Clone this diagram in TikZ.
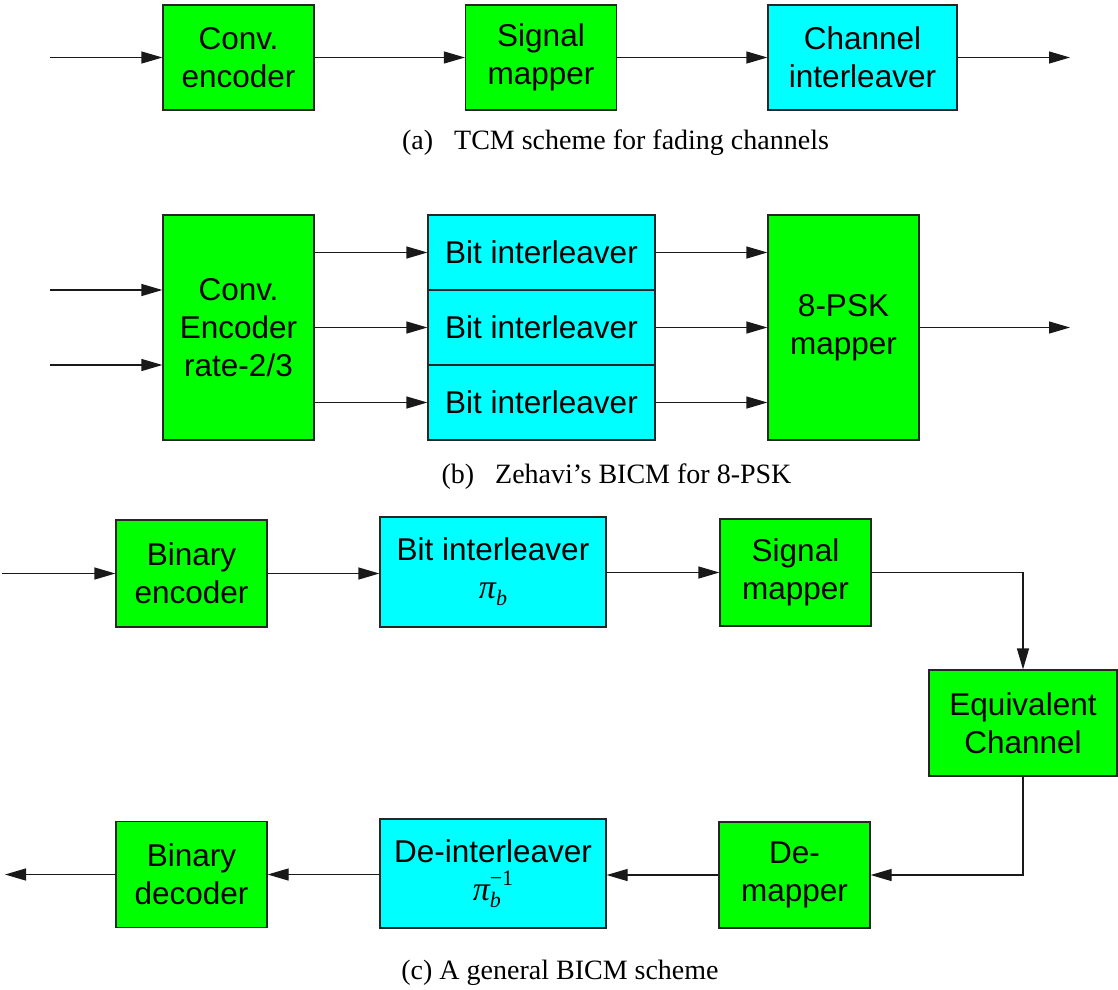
\documentclass[tikz,border=0pt]{standalone}
\usepackage{fontspec}
\setmainfont{Liberation Serif}
\newfontfamily\boxfont{Liberation Sans}
\newfontfamily\grkfont{Liberation Serif}
\usetikzlibrary{arrows.meta}
\definecolor{boxgreen}{RGB}{0,255,0}
\definecolor{boxcyan}{RGB}{0,255,255}
\newcommand{\pib}{{\grkfont\fontsize{34}{38}\selectfont\itshape π\raisebox{-7pt}{\fontsize{22}{22}\selectfont b}}}
\newcommand{\pibinv}{{\grkfont\fontsize{34}{38}\selectfont\itshape π\rlap{\raisebox{-7pt}{\fontsize{22}{22}\selectfont b}}\raisebox{15pt}{\upshape\fontsize{22}{22}\selectfont −1}}}
\begin{document}
\begin{tikzpicture}[x=1pt,y=-1pt,
  blk/.style={draw=black!85,line width=1.2pt,inner sep=0pt,align=center,
    font=\boxfont\fontsize{31.5}{38}\selectfont},
  grn/.style={blk,fill=boxgreen},
  cyn/.style={blk,fill=boxcyan},
  arr/.style={-{Triangle[length=21pt,width=12pt]},line width=1.2pt,black!90},
  captext/.style={font=\fontsize{28}{32}\selectfont,inner sep=0pt}]
\useasboundingbox (0,0) rectangle (1118,989);
% (a)
\node[grn,minimum width=151pt,minimum height=105pt] (ce) at (238.5,57.5) {Conv.\\encoder};
\node[grn,minimum width=151pt,minimum height=105pt] (sm) at (541,57.5) {Signal\\mapper};
\node[cyn,minimum width=189pt,minimum height=105pt] (ci) at (862.5,57.5) {Channel\\interleaver};
\coordinate (ain) at (50,57.5);
\coordinate (aout) at (1070,57.5);
\draw[arr] (ain) -- (ce);
\draw[arr] (ce) -- (sm);
\draw[arr] (sm) -- (ci);
\draw[arr] (ci) -- (aout);
\node[captext] (capa) at (615.5,143) {(a)\ \ \ TCM scheme for fading channels};
% (b)
\node[grn,minimum width=151pt,minimum height=225pt] (cer) at (238.5,327.5) {Conv.\\Encoder\\rate-2/3};
\node[cyn,minimum width=227pt,minimum height=75pt] (bi1) at (541.5,252.5) {Bit interleaver};
\node[cyn,minimum width=227pt,minimum height=75pt] (bi2) at (541.5,327.5) {Bit interleaver};
\node[cyn,minimum width=227pt,minimum height=75pt] (bi3) at (541.5,402.5) {Bit interleaver};
\node[grn,minimum width=151pt,minimum height=225pt] (psk) at (843.5,327.5) {8-PSK\\mapper};
\coordinate (bin1) at (50,290);
\coordinate (bin2) at (50,365);
\coordinate (bout) at (1070,327.5);
\draw[arr] (bin1) -- (bin1 -| cer.west);
\draw[arr] (bin2) -- (bin2 -| cer.west);
\draw[arr] (bi1.west -| cer.east) -- (bi1.west);
\draw[arr] (bi2.west -| cer.east) -- (bi2.west);
\draw[arr] (bi3.west -| cer.east) -- (bi3.west);
\draw[arr] (bi1.east) -- (bi1.east -| psk.west);
\draw[arr] (bi2.east) -- (bi2.east -| psk.west);
\draw[arr] (bi3.east) -- (bi3.east -| psk.west);
\draw[arr] (psk) -- (bout);
\node[captext] (capb) at (616.5,477) {(b)\ \ \ Zehavi's BICM for 8-PSK};
% (c)
\node[grn,minimum width=151pt,minimum height=107pt] (be) at (191.5,573.5) {Binary\\encoder};
\node[cyn,minimum width=226pt,minimum height=110pt] (bi) at (493,572) {Bit interleaver\\[0pt]\pib};
\node[grn,minimum width=151pt,minimum height=107pt] (sm2) at (795.5,572.5) {Signal\\mapper};
\node[grn,minimum width=188pt,minimum height=106pt] (eq) at (1023,723) {Equivalent\\Channel};
\node[grn,minimum width=151pt,minimum height=106pt] (dm) at (794.5,875) {De-\\mapper};
\node[cyn,minimum width=226pt,minimum height=109pt] (di) at (493,873.5) {De-interleaver\\[0pt]\pibinv};
\node[grn,minimum width=151pt,minimum height=106pt] (bd) at (191.5,874.5) {Binary\\decoder};
\coordinate (cin) at (2,573.5);
\coordinate (cout) at (5,874.5);
\draw[arr] (cin) -- (be);
\draw[arr] (be) -- (bi.west |- be);
\draw[arr] (bi.east |- sm2) -- (sm2);
\draw[arr] (sm2.east) -| (eq.north);
\draw[arr] (eq.south) |- (dm.east);
\draw[arr] (dm) -- (di.east |- dm);
\draw[arr] (di.west |- bd) -- (bd);
\draw[arr] (bd) -- (cout);
\node[captext] (capc) at (560,973) {(c) A general BICM scheme};
\end{tikzpicture}
\end{document}
